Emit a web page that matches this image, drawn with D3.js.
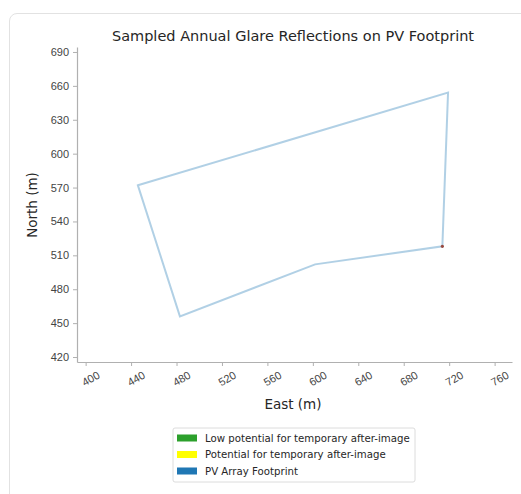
<!DOCTYPE html>
<html>
<head>
<meta charset="utf-8">
<script src="https://cdn.jsdelivr.net/npm/d3@7"></script>
<style>
  html, body { margin: 0; padding: 0; background: #fff; }
  body { width: 521px; height: 494px; overflow: hidden; position: relative; }
  .card { position: absolute; left: 9px; top: 13px; width: 530px; height: 500px;
          border: 1px solid #e2e2e2; border-radius: 8px; box-sizing: border-box; }
  svg { position: absolute; left: 0; top: 0; font-family: "DejaVu Sans", sans-serif; }
</style>
</head>
<body>
<div class="card"></div>
<svg id="chart" width="521" height="494"></svg>
<script>
// PV array footprint vertices (East, North in metres)
const footprintEast  = [446, 719, 714, 602, 483];
const footprintNorth = [572, 654, 518, 502, 456];
// Sampled glare reflection points
const glareEast  = [714];
const glareNorth = [518];
const xTicks = [400, 440, 480, 520, 560, 600, 640, 680, 720, 760];
const yTicks = [420, 450, 480, 510, 540, 570, 600, 630, 660, 690];
const legendLabels = ["Low potential for temporary after-image", "Potential for temporary after-image", "PV Array Footprint"];
const legendColors = ["#2ca02c", "#ffff00", "#1f77b4"];

const svg = d3.select("#chart");
const plot = { left: 77, right: 512, top: 47, bottom: 362 };

const x = d3.scaleLinear().domain([392.4, 775.3]).range([plot.left, plot.right]);
const y = d3.scaleLinear().domain([415.6, 694.4]).range([plot.bottom, plot.top]);

// Title
svg.append("text")
  .attr("x", 293).attr("y", 41)
  .attr("text-anchor", "middle")
  .attr("font-size", 14.5).attr("fill", "#262626")
  .text("Sampled Annual Glare Reflections on PV Footprint");

// Axes
const axisColor = "#b0b0b0";
const xAxis = svg.append("g").attr("transform", `translate(0,${plot.bottom})`)
  .call(d3.axisBottom(x).tickValues(xTicks).tickSize(4).tickSizeOuter(0).tickPadding(5));
xAxis.selectAll("text")
  .attr("font-size", 11).attr("fill", "#444")
  .attr("text-anchor", "end")
  .attr("transform", "rotate(-30)")
  .attr("dx", "0.45em").attr("dy", "1.05em");
const yAxis = svg.append("g").attr("transform", `translate(${plot.left},0)`)
  .call(d3.axisLeft(y).tickValues(yTicks).tickSize(4).tickSizeOuter(0).tickPadding(4));
yAxis.selectAll("text").attr("font-size", 11).attr("fill", "#444");
[xAxis, yAxis].forEach(g => {
  g.select(".domain").attr("stroke", axisColor).attr("stroke-width", 1.2);
  g.selectAll(".tick line").attr("stroke", axisColor);
});

// Axis labels
svg.append("text")
  .attr("x", 293).attr("y", 409)
  .attr("text-anchor", "middle")
  .attr("font-size", 13.5).attr("fill", "#262626")
  .text("East (m)");
svg.append("text")
  .attr("transform", `translate(37,205) rotate(-90)`)
  .attr("text-anchor", "middle")
  .attr("font-size", 13.5).attr("fill", "#262626")
  .text("North (m)");

// Footprint outline
const pts = footprintEast.map((e, i) => [x(e), y(footprintNorth[i])]);
svg.append("path")
  .attr("d", d3.line()(pts) + "Z")
  .attr("fill", "none")
  .attr("stroke", "#1f77b4").attr("stroke-opacity", 0.35)
  .attr("stroke-width", 2).attr("stroke-linejoin", "miter");

// Glare points
svg.selectAll("circle.glare")
  .data(glareEast.map((e, i) => [e, glareNorth[i]]))
  .join("circle")
  .attr("class", "glare")
  .attr("cx", d => x(d[0])).attr("cy", d => y(d[1]))
  .attr("r", 1.6).attr("fill", "#9a4a40");

// Legend
const lg = svg.append("g").attr("transform", "translate(173,428)");
lg.append("rect").attr("width", 242).attr("height", 54)
  .attr("fill", "#fff").attr("stroke", "#dcdcdc").attr("rx", 2);
legendLabels.forEach((lab, i) => {
  const row = lg.append("g").attr("transform", `translate(0,${10 + i * 16.5})`);
  row.append("rect").attr("x", 4).attr("y", -3.5).attr("width", 20).attr("height", 7)
    .attr("fill", legendColors[i]);
  row.append("text").attr("x", 32).attr("y", 3.5)
    .attr("font-size", 10.2).attr("fill", "#262626").text(lab);
});
</script>
</body>
</html>
